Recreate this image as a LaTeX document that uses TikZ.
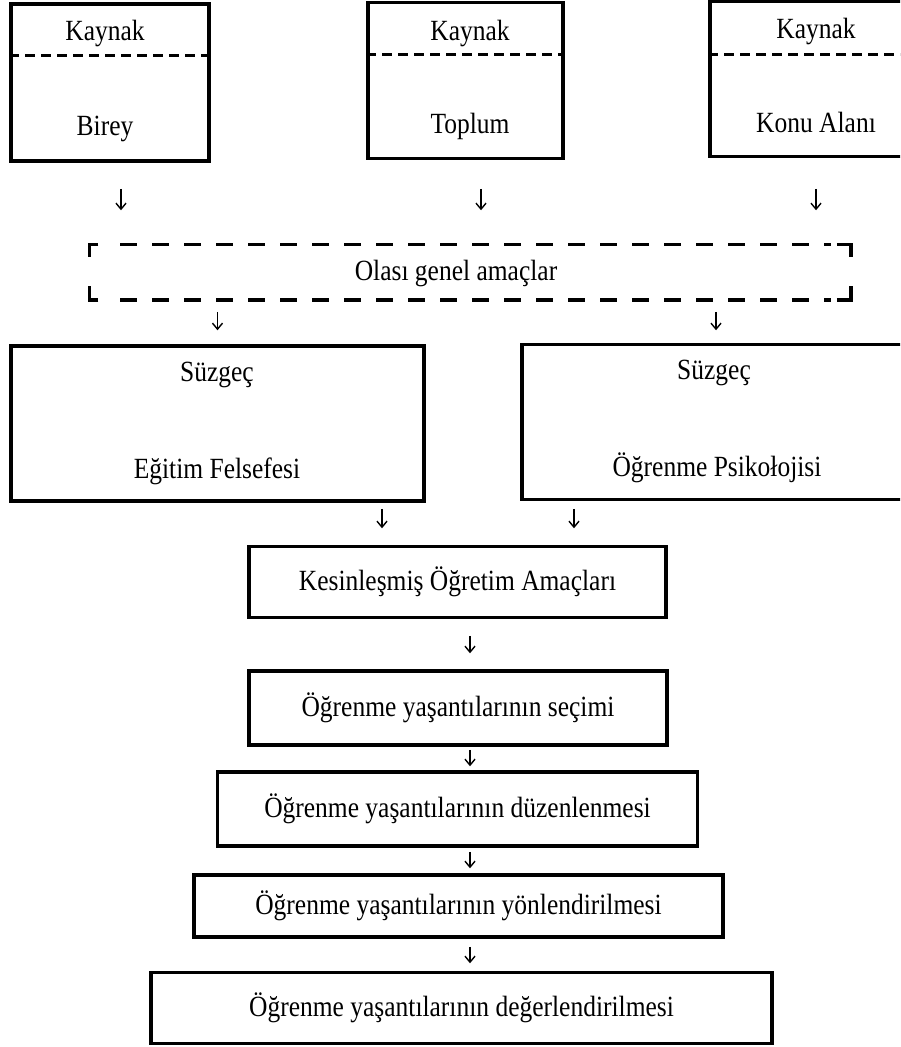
\documentclass[tikz,border=0pt]{standalone}
\usepackage{fontspec}
\setmainfont{Liberation Serif}[FakeStretch=0.87]
\usetikzlibrary{arrows.meta, positioning}

\begin{document}
\begin{tikzpicture}
                            [x=1pt, y=-1pt,
                             every node/.style={font=\fontsize{29.3}{34}\selectfont},
                             box/.style={draw, line width=3.5pt, rectangle, inner sep=0pt},
                             txt/.style={anchor=base, inner sep=0pt},
                             divline/.style={line width=3pt, dash pattern=on 10pt off 6pt},
                             frameline/.style={line width=3.5pt, dash pattern=on 17pt off 15pt},
                             corner/.style={line width=3.5pt},
                             arr/.style={line width=1.5pt, -{Straight Barb[length=6pt, width=10pt, line width=1.4pt]}}]

    \useasboundingbox (0,0) rectangle (900,1047);
    \clip (0,0) rectangle (900,1047);

    % kaynaklar
    \node[box, minimum width=198pt, minimum height=157pt] (birey) at (110,82.5) {};
    \node[box, minimum width=195pt, minimum height=156pt] (toplum) at (465.5,80.5) {};
    \node[box, minimum width=214pt, minimum height=155pt] (konu) at (817,79) {};
    \draw[divline] ([yshift=-53pt]birey.north west) -- ([yshift=-53pt]birey.north east);
    \draw[divline] ([yshift=-54pt]toplum.north west) -- ([yshift=-54pt]toplum.north east);
    \draw[divline] ([yshift=-55pt]konu.north west) -- ([yshift=-55pt]konu.north east);
    \node[txt] (bireyk) at (105,40) {Kaynak};
    \node[txt] (bireyt) at (105,135) {Birey};
    \node[txt] (toplumk) at (470,40) {Kaynak};
    \node[txt] (toplumt) at (470,133) {Toplum};
    \node[txt] (konuk) at (816,38) {Kaynak};
    \node[txt] (konut) at (816,132) {Konu Alanı};

    % olasi genel amaclar
    \node[box, draw=none, minimum width=758pt, minimum height=52pt] (amac) at (470,272) {};
    \node[txt] (amact) at (456,280) {Olası genel amaçlar};
    \draw[frameline] ([xshift=31pt]amac.north west) -- ([xshift=-20pt]amac.north east);
    \draw[frameline] ([xshift=31pt]amac.south west) -- ([xshift=-20pt]amac.south east);
    \draw[corner] ([xshift=9pt]amac.north west) -- (amac.north west) -- ([yshift=-13pt]amac.north west);
    \draw[corner] ([xshift=9pt]amac.south west) -- (amac.south west) -- ([yshift=14pt]amac.south west);
    \draw[corner] ([xshift=-14pt]amac.north east) -- (amac.north east) -- ([yshift=-13pt]amac.north east);
    \draw[corner] ([xshift=-14pt]amac.south east) -- (amac.south east) -- ([yshift=14pt]amac.south east);

    % suzgecler
    \node[box, minimum width=413pt, minimum height=155pt] (felsefe) at (217.5,423.5) {};
    \node[box, minimum width=388pt, minimum height=155pt] (psiko) at (716,422) {};
    \node[txt] (felsefek) at (217,381) {Süzgeç};
    \node[txt] (felsefet) at (217,478) {Eğitim Felsefesi};
    \node[txt] (psikok) at (714,379) {Süzgeç};
    \node[txt] (psikot) at (717,476) {Öğrenme Psikołojisi};

    % ogretim amaclari ve yasantilar
    \node[box, minimum width=417pt, minimum height=71pt] (kesin) at (457.5,582) {Kesinleşmiş Öğretim Amaçları};
    \node[box, minimum width=418pt, minimum height=74pt] (secim) at (458,708) {Öğrenme yaşantılarının seçimi};
    \node[box, minimum width=480pt, minimum height=74pt] (duzen) at (457.5,809) {Öğrenme yaşantılarının düzenlenmesi};
    \node[box, minimum width=529pt, minimum height=62pt] (yonlen) at (458.5,906) {Öğrenme yaşantılarının yönlendirilmesi};
    \node[box, minimum width=621pt, minimum height=71pt] (deger) at (461.5,1008) {Öğrenme yaşantılarının değerlendirilmesi};

    \coordinate (mid) at (470,0);

    % oklar
    \draw[arr, shorten <=26pt, shorten >=34pt] ([xshift=11pt]birey.south) -- ([xshift=11pt]birey.south |- amac.north);
    \draw[arr, shorten <=28.5pt, shorten >=34pt] ([xshift=15.5pt]toplum.south) -- ([xshift=15.5pt]toplum.south |- amac.north);
    \draw[arr, shorten <=30.5pt, shorten >=34pt] ([xshift=-1pt]konu.south) -- ([xshift=-1pt]konu.south |- amac.north);
    \draw[arr, shorten <=12pt, shorten >=14pt] (amac.south -| felsefe.north) -- (felsefe.north);
    \draw[arr, shorten <=12pt, shorten >=12.5pt] (amac.south -| psiko.north) -- (psiko.north);
    \draw[arr, shorten <=6pt, shorten >=16.5pt] ([xshift=-75.5pt]kesin.north |- felsefe.south) -- ([xshift=-75.5pt]kesin.north);
    \draw[arr, shorten <=7.5pt, shorten >=16.5pt] ([xshift=116.5pt]kesin.north |- psiko.south) -- ([xshift=116.5pt]kesin.north);
    \draw[arr, shorten <=16.5pt, shorten >=16pt] (mid |- kesin.south) -- (mid |- secim.north);
    \draw[arr, shorten <=3pt, shorten >=4pt] (mid |- secim.south) -- (mid |- duzen.north);
    \draw[arr, shorten <=4pt, shorten >=5pt] (mid |- duzen.south) -- (mid |- yonlen.north);
    \draw[arr, shorten <=8pt, shorten >=7.5pt] (mid |- yonlen.south) -- (mid |- deger.north);
\end{tikzpicture}
\end{document}
